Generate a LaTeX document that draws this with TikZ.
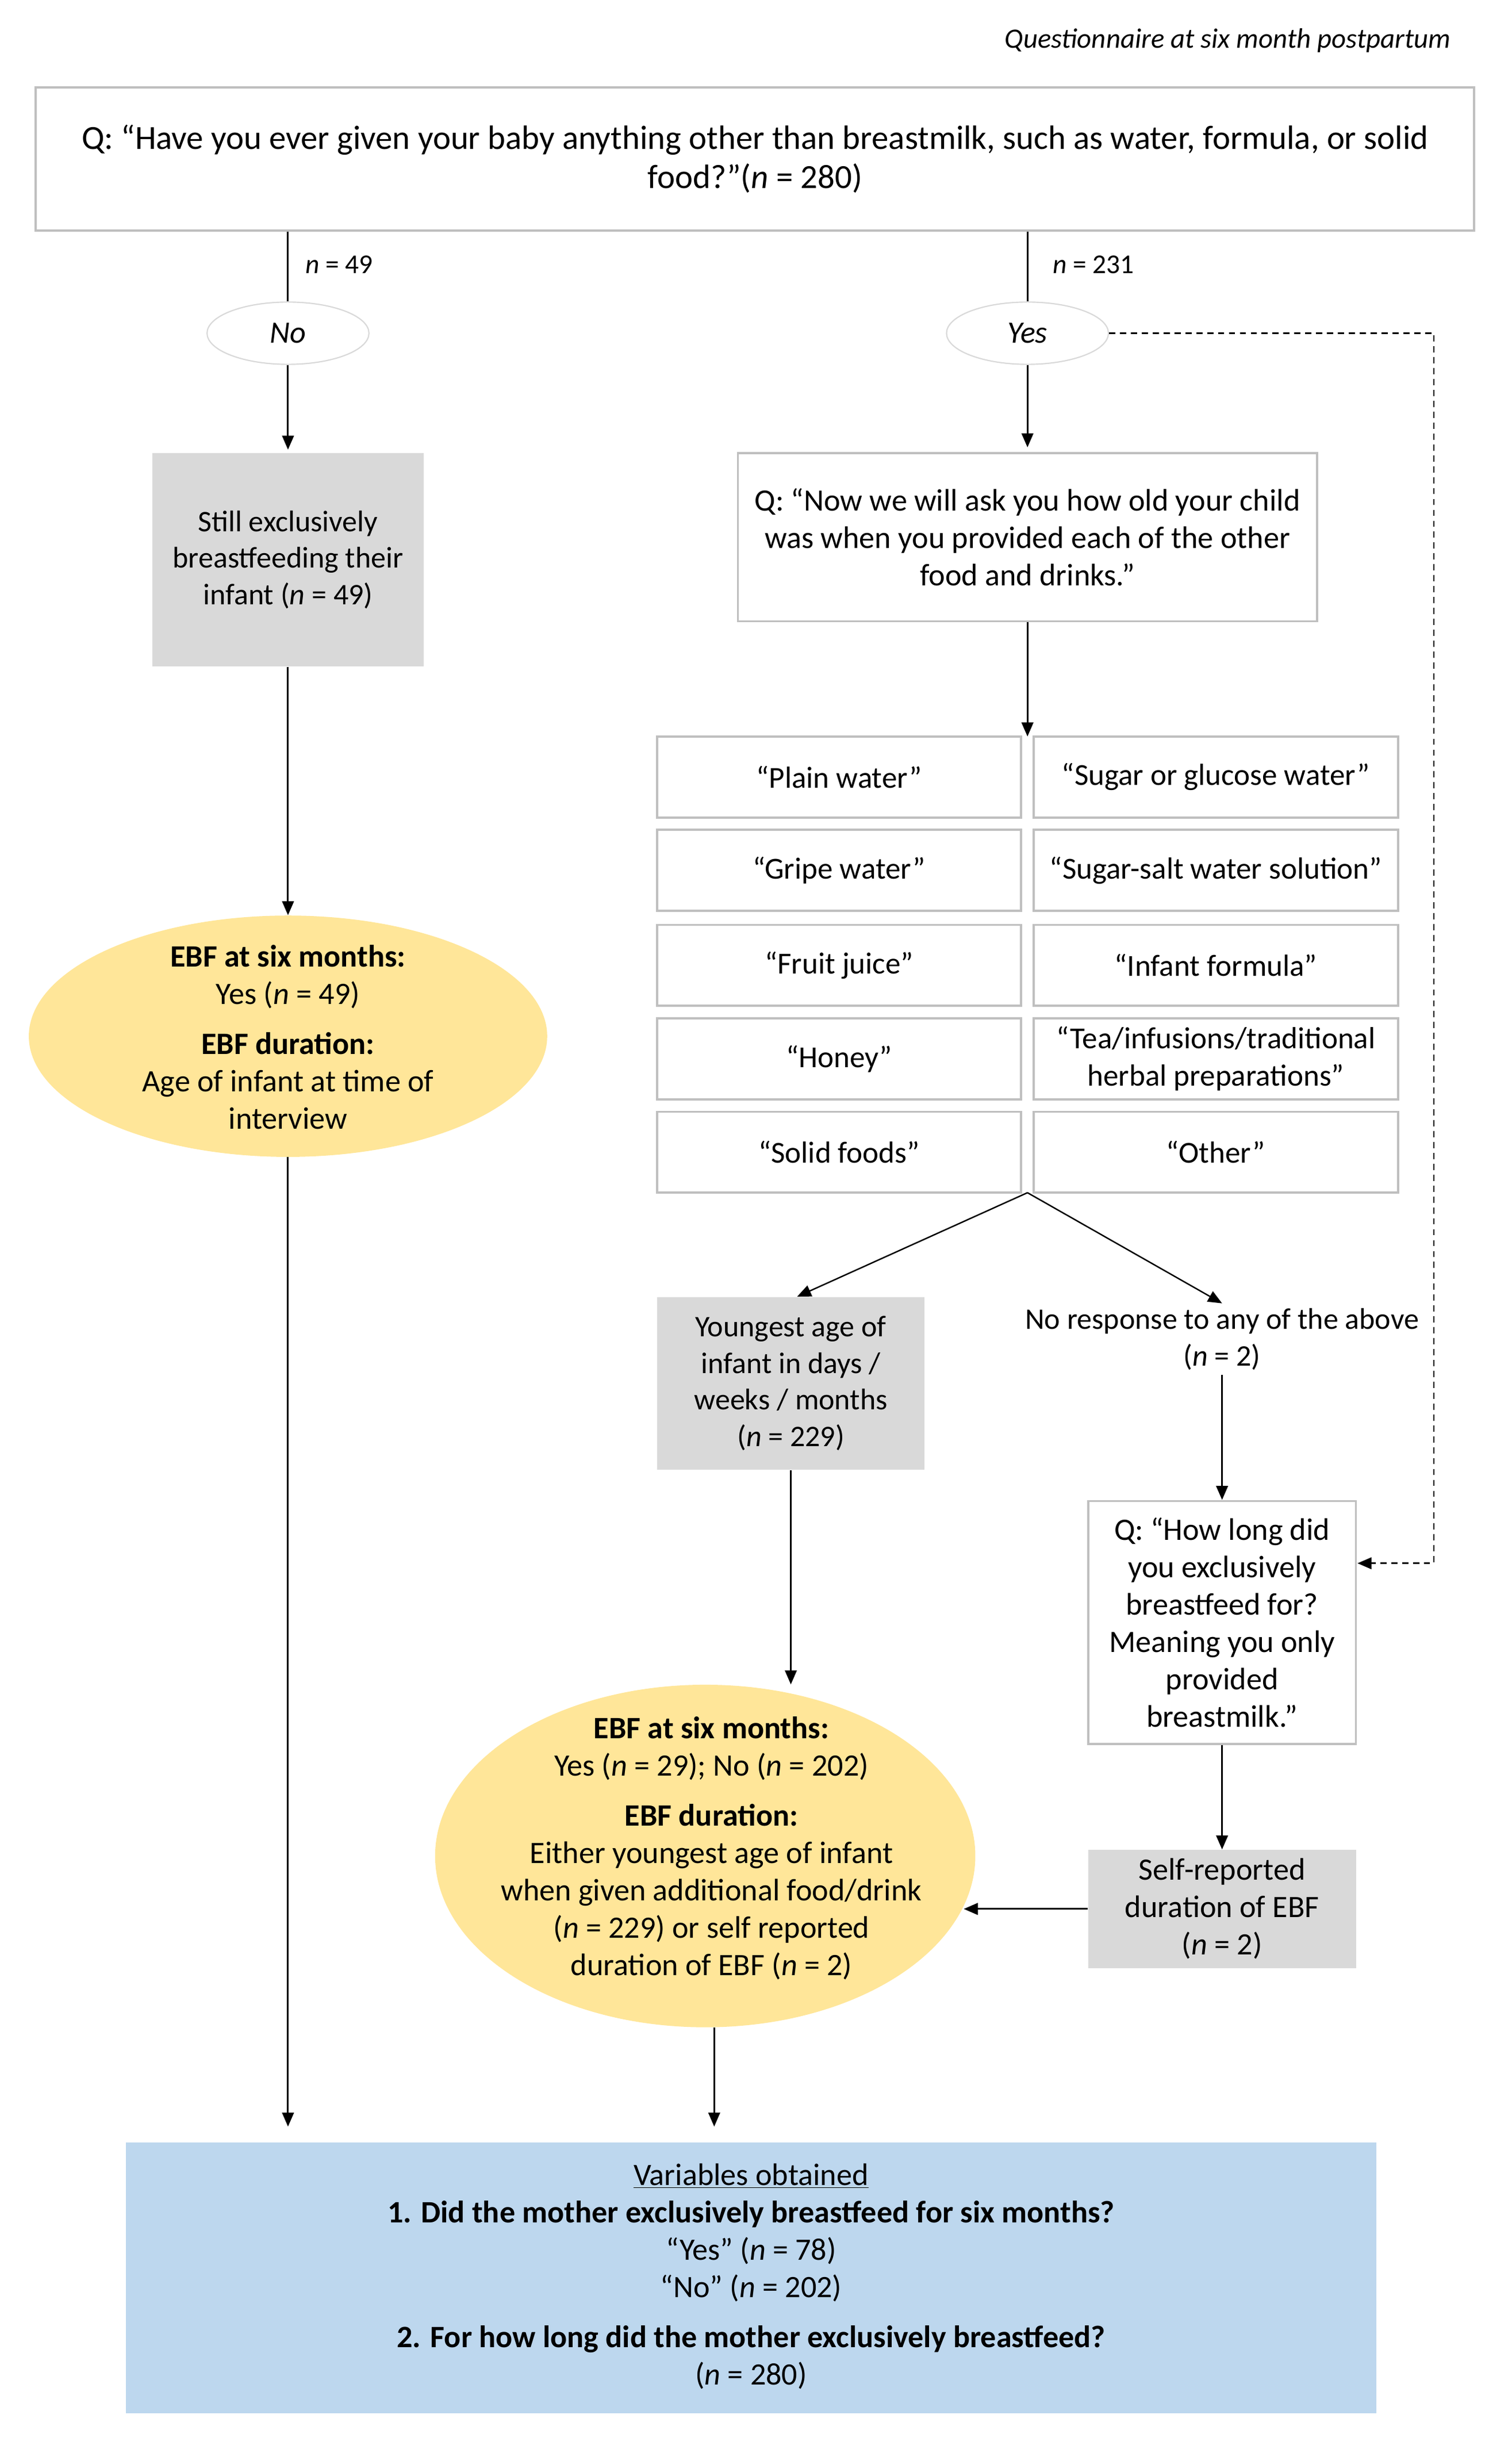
\documentclass[tikz,border=0pt]{standalone}
\usepackage{fontspec}
\setmainfont{Carlito}
\usetikzlibrary{shapes.geometric,arrows.meta}
\definecolor{boxgray}{HTML}{D9D9D9}
\definecolor{bordergray}{HTML}{BFBFBF}
\definecolor{ebfyellow}{HTML}{FFE699}
\definecolor{varblue}{HTML}{BDD7EE}
\begin{document}
\begin{tikzpicture}[x=1pt,y=-1pt, font=\fontsize{20}{24}\selectfont,
  arr/.style={-{Triangle[length=9pt,width=7.5pt]}, line width=1.1pt},
  qbox/.style={draw=bordergray, line width=1.4pt, fill=white, rectangle, inner sep=0pt, align=center},
  graybox/.style={fill=boxgray, rectangle, inner sep=0pt, align=center},
  cell/.style={qbox, minimum width=234pt, minimum height=52pt, font=\fontsize{19.6}{24}\selectfont},
  yn/.style={ellipse, draw=boxgray, line width=0.8pt, fill=white, minimum width=104pt, minimum height=40pt, inner sep=0pt, font=\fontsize{20}{24}\selectfont\itshape},
  ebf/.style={ellipse, fill=ebfyellow, inner sep=0pt},
  txt/.style={align=center, inner sep=0pt},
  smalltxt/.style={font=\fontsize{19.2}{23.5}\selectfont},
  nlab/.style={anchor=west, inner sep=0pt, font=\fontsize{17.5}{20}\selectfont}
]
\useasboundingbox (0,0) rectangle (971,1578);

\node[anchor=east, inner sep=0pt, font=\fontsize{18}{21}\selectfont\itshape] (title) at (932,26) {Questionnaire at six month postpartum};

\node[qbox, minimum width=924pt, minimum height=92pt, font=\fontsize{21.7}{25}\selectfont] (top) at (485,102)
  {Q: “Have you ever given your baby anything other than breastmilk, such as water, formula, or solid\\ food?”(\textit{n} = 280)};

\node[yn] (no) at (185,214) {No};
\node[yn] (yes) at (660,214) {Yes};
\draw[line width=1.1pt] (top.south -| no.north) -- (no.north);
\draw[line width=1.1pt] (top.south -| yes.north) -- (yes.north);
\node[nlab] (n49) at (196,170) {\textit{n} = 49};
\node[nlab] (n231) at (676,170) {\textit{n} = 231};

\node[graybox, smalltxt, minimum width=174pt, minimum height=137pt] (still) at (185,359.5)
  {Still exclusively\\ breastfeeding their\\ infant (\textit{n} = 49)};
\node[qbox, minimum width=372pt, minimum height=108pt] (qnow) at (660,345)
  {Q: “Now we will ask you how old your child\\ was when you provided each of the other\\ food and drinks.”};

\draw[arr, shorten >=2pt] (no.south) -- (still.north);
\draw[arr, shorten >=3pt] (yes.south) -- (qnow.north);

% grid of answers
\node[cell] (c11) at (539,499) {“Plain water”};
\node[cell] (c12) at (781,499) {“Sugar or glucose water”};
\node[cell] (c21) at (539,559) {“Gripe water”};
\node[cell] (c22) at (781,559) {“Sugar-salt water solution”};
\node[cell] (c31) at (539,620) {“Fruit juice”};
\node[cell] (c32) at (781,620) {“Infant formula”};
\node[cell] (c41) at (539,680) {“Honey”};
\node[cell] (c42) at (781,680) {“Tea/infusions/traditional\\ herbal preparations”};
\node[cell] (c51) at (539,740) {“Solid foods”};
\node[cell] (c52) at (781,740) {“Other”};
\coordinate (gridtop) at (660,473);
\coordinate (gridbot) at (660,766);
\draw[arr] (qnow.south) -- (gridtop);

\node[graybox, smalltxt, minimum width=172pt, minimum height=111pt] (young) at (508,888.5)
  {Youngest age of\\ infant in days /\\ weeks / months\\ (\textit{n} = 229)};
\node[txt, smalltxt, inner ysep=3pt] (noresp) at (785,860) {No response to any of the above\\ (\textit{n} = 2)};
\draw[arr, line width=0.9pt] (gridbot) -- (young.north -| 512,0);
\draw[arr, line width=0.9pt] (gridbot) -- (noresp.north);

\node[qbox, minimum width=172pt, minimum height=156pt] (howlong) at (785,1042)
  {Q: “How long did\\ you exclusively\\ breastfeed for?\\ Meaning you only\\ provided\\ breastmilk.”};
\draw[arr] (noresp.south) -- (howlong.north);

\node[graybox, minimum width=172pt, minimum height=76pt] (selfrep) at (785,1226)
  {Self-reported\\ duration of EBF\\ (\textit{n} = 2)};
\draw[arr] (howlong.south) -- (selfrep.north);

% dashed path from Yes
\coordinate (dashx) at (921,0);
\coordinate (hlin) at (872,1004);
\draw[arr, line width=1pt, dash pattern=on 4pt off 3pt] (yes.east) -- (yes.east -| dashx) -- (dashx |- hlin) -- (hlin);

% left ellipse
\node[ebf, minimum width=333pt, minimum height=155pt] (lell) at (185,665.5) {};
\node[txt] (lelltxt) at (185,666)
  {\textbf{EBF at six months:}\\ Yes (\textit{n} = 49)\\[8pt] \textbf{EBF duration:}\\ Age of infant at time of\\ interview};
\draw[arr] (still.south) -- (lell.north);

% big ellipse
\node[ebf, minimum width=347pt, minimum height=220pt] (bell) at (453,1192) {};
\node[txt] (belltxt) at (457,1187)
  {\textbf{EBF at six months:}\\ Yes (\textit{n} = 29); No (\textit{n} = 202)\\[8pt] \textbf{EBF duration:}\\ Either youngest age of infant\\ when given additional food/drink\\ (\textit{n} = 229) or self reported\\ duration of EBF (\textit{n} = 2)};
\draw[arr] (young.south) -- (young.south |- bell.north);
\draw[arr] (selfrep.west) -- (selfrep.west -| bell.-11.6);

% bottom box
\node[fill=varblue, rectangle, inner sep=0pt, minimum width=803pt, minimum height=174pt] (vars) at (482.5,1463) {};
\node[txt] (varstxt) at (482.5,1462)
  {\underline{Variables obtained}\\ \textbf{1. Did the mother exclusively breastfeed for six months?}\\ “Yes” (\textit{n} = 78)\\ “No” (\textit{n} = 202)\\[8pt] \textbf{2. For how long did the mother exclusively breastfeed?}\\ (\textit{n} = 280)};
\draw[arr, shorten >=10pt] (lell.south) -- (lell.south |- vars.north);
\draw[arr, shorten >=10pt] (bell.-87) -- (bell.-87 |- vars.north);
\end{tikzpicture}
\end{document}
